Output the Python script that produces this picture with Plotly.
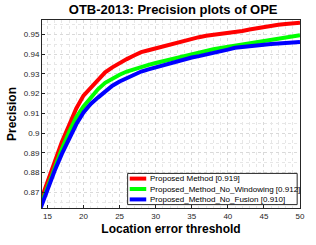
import plotly.graph_objects as go

thresholds = list(range(14, 51))

proposed = [0.865, 0.8755, 0.886, 0.8955, 0.904, 0.9125, 0.919, 0.9227, 0.9268, 0.9308,
            0.9333, 0.9355, 0.9375, 0.9393, 0.941, 0.942, 0.943, 0.9437, 0.9446, 0.9455,
            0.9467, 0.9478, 0.9486, 0.9493, 0.9498, 0.9502, 0.9505, 0.9509, 0.9517, 0.9525,
            0.9532, 0.9538, 0.9544, 0.9549, 0.9553, 0.9556, 0.9559]

no_windowing = [0.8625, 0.8725, 0.883, 0.892, 0.9005, 0.908, 0.9135, 0.9177, 0.9222, 0.9255,
                0.9278, 0.9296, 0.9312, 0.9325, 0.9337, 0.9346, 0.9355, 0.9364, 0.9374, 0.9383,
                0.9393, 0.9403, 0.941, 0.9418, 0.9425, 0.9431, 0.9437, 0.9443, 0.9449, 0.9454,
                0.9459, 0.9464, 0.947, 0.9476, 0.9482, 0.9489, 0.9496]

no_fusion = [0.8615, 0.8715, 0.881, 0.8895, 0.897, 0.9045, 0.9105, 0.9148, 0.918, 0.9213,
             0.924, 0.9262, 0.928, 0.9296, 0.9312, 0.9323, 0.9333, 0.9345, 0.9357, 0.9366,
             0.9375, 0.9383, 0.939, 0.9397, 0.9404, 0.9413, 0.9423, 0.9432, 0.9437, 0.9441,
             0.9445, 0.9448, 0.9451, 0.9454, 0.9457, 0.946, 0.9462]

series_names = ["Proposed Method [0.919]",
                "Proposed_Method_No_Windowing [0.912]",
                "Proposed_Method_No_Fusion [0.910]"]
series_colors = ["#ff0000", "#00ff00", "#0000ff"]

x_tickvals = [15, 20, 25, 30, 35, 40, 45, 50]
y_tickvals = [0.87, 0.88, 0.89, 0.9, 0.91, 0.92, 0.93, 0.94, 0.95]
y_ticktext = ["0.87", "0.88", "0.89", "0.9", "0.91", "0.92", "0.93", "0.94", "0.95"]

fig = go.Figure()
for name, ys, col in zip(series_names, [proposed, no_windowing, no_fusion], series_colors):
    fig.add_trace(go.Scatter(x=thresholds, y=ys, mode="lines", name=name,
                             line=dict(color=col, width=4), showlegend=False))

font_family = "Liberation Sans, Arial, sans-serif"
axis_common = dict(
    showline=True, linecolor="#262626", linewidth=1, mirror=True,
    ticks="inside", ticklen=3, tickcolor="#262626",
    showgrid=True, gridcolor="#d9d9d9", griddash="dot", gridwidth=1,
    zeroline=False, ticklabeloverflow="allow",
    tickfont=dict(size=8, color="#262626", family=font_family),
)

# Legend box (drawn in paper coordinates, like MATLAB's legend)
lx0, lx1 = 0.332, 0.989
ly0, ly1 = 0.018, 0.184
row_h = (ly1 - ly0) / 3
shapes = [dict(type="rect", xref="paper", yref="paper", x0=lx0, x1=lx1, y0=ly0, y1=ly1,
               line=dict(color="#262626", width=1), fillcolor="white", layer="above")]
annotations = []
for i, (name, col) in enumerate(zip(series_names, series_colors)):
    yc = ly1 - row_h * (i + 0.5)
    shapes.append(dict(type="line", xref="paper", yref="paper", x0=lx0 + 0.008, x1=lx0 + 0.072,
                       y0=yc, y1=yc, line=dict(color=col, width=4), layer="above"))
    annotations.append(dict(xref="paper", yref="paper", x=lx0 + 0.078, y=yc, text=name,
                            showarrow=False, xanchor="left", yanchor="middle",
                            font=dict(size=8, color="black", family=font_family)))

fig.update_layout(
    width=316, height=245,
    margin=dict(l=40, r=11, t=20, b=32),
    paper_bgcolor="white", plot_bgcolor="white",
    title=dict(text="<b>OTB-2013: Precision plots of OPE</b>", x=0.548, xanchor="center",
               y=0.96, yanchor="middle",
               font=dict(size=13, color="black", family=font_family)),
    xaxis=dict(range=[14.25, 50], tickvals=x_tickvals,
               title=dict(text="<b>Location error threshold</b>", standoff=5,
                          font=dict(size=12, color="black", family=font_family)),
               minor=dict(dtick=1, showgrid=True, gridcolor="#e6e6e6", griddash="dot", ticks=""),
               **axis_common),
    yaxis=dict(range=[0.8621, 0.9573], tickvals=y_tickvals, ticktext=y_ticktext,
               title=dict(text="<b>Precision</b>", standoff=4,
                          font=dict(size=12, color="black", family=font_family)),
               minor=dict(dtick=0.005, tick0=0.87, showgrid=True, gridcolor="#e6e6e6", griddash="dot", ticks=""),
               **axis_common),
    shapes=shapes,
    annotations=annotations,
    showlegend=False,
)

fig.write_html("out.html", config={"displayModeBar": False},
               post_script="document.body.style.margin='0';document.body.style.overflow='hidden';")
